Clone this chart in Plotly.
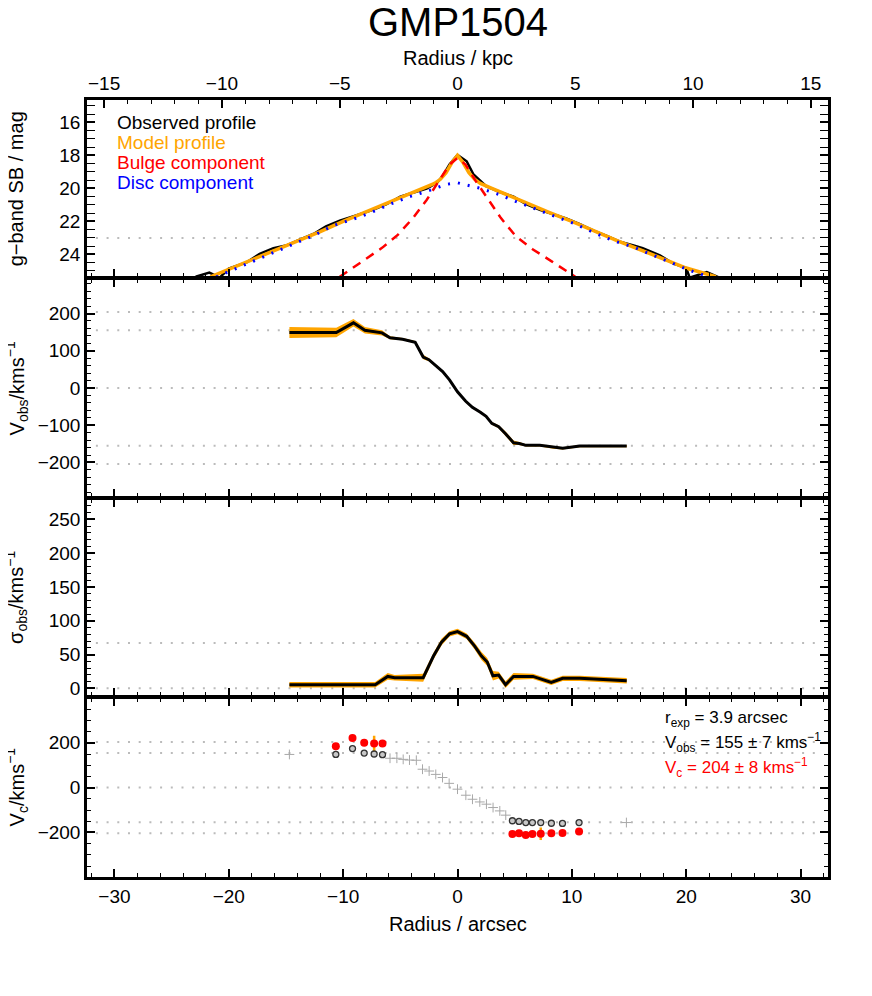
import plotly.graph_objects as go

FONT = "Liberation Sans, Arial, sans-serif"
ORANGE = "#FFA500"
X_MAX = 32.4
KPC_PER_ARCSEC = 0.4854

# panel 1: g-band surface brightness
OBS_R = [-22.9, -21.7, -20.8, -20.0, -18.4, -17.3, -16.1, -15.0, -13.8, -12.6, -11.5, -10.3, -8.8, -7.4,
         -6.2, -5.0, -3.9, -2.7, -1.8, -1.3, -0.7, 0.0, 0.8, 1.4, 2.5, 3.7, 4.9, 6.0, 7.2, 8.4, 9.5,
         10.7, 11.9, 13.0, 14.2, 15.4, 16.2, 17.7, 18.9, 20.0, 20.3, 21.8, 22.9]
OBS_MAG = [25.35, 25.10, 25.40, 24.86, 24.46, 23.96, 23.62, 23.46, 23.10, 22.76, 22.30, 21.96, 21.62, 21.30,
           20.96, 20.50, 20.26, 20.02, 19.66, 19.26, 18.56, 17.97, 18.36, 19.16, 19.86, 20.22, 20.50, 20.96,
           21.30, 21.56, 21.82, 22.16, 22.56, 22.86, 23.22, 23.46, 23.62, 24.06, 24.56, 24.82, 25.40, 25.06, 25.40]

MOD_R = [-21.6, -20, -18, -16, -14, -12, -10, -8, -6, -4, -3, -2, -1.5, -1, -0.5, 0,
         0.5, 1, 1.5, 2, 3, 4, 6, 8, 10, 12, 14, 16, 18, 20, 22.6]
MOD_MAG = [25.35, 24.9, 24.35, 23.8, 23.22, 22.62, 22.0, 21.42, 20.88, 20.3, 20.0, 19.7, 19.45, 19.05, 18.45, 18.0,
           18.45, 19.05, 19.45, 19.7, 20.0, 20.3, 20.88, 21.45, 22.0, 22.6, 23.18, 23.72, 24.28, 24.82, 25.35]

BULGE_R = [-10.3, -9.7, -8.1, -6.6, -5.2, -3.9, -2.7, -1.6, -0.7, 0, 0.7, 1.6, 2.7, 3.8, 5.1, 6.6, 8.2, 10.0, 10.3]
BULGE_MAG = [25.35, 25.06, 24.3, 23.6, 22.8, 21.8, 20.7, 19.56, 18.56, 18.16, 18.56, 19.56, 20.7, 21.8, 22.9,
             23.7, 24.4, 25.2, 25.35]

DISC_R = [-21.1, -18.4, -15.5, -12.6, -10.9, -9.1, -7.7, -5.9, -4.2, -2.6, -1.0, 0, 1.8, 3.6, 5.2, 6.9, 8.7,
          10.3, 12.0, 13.6, 15.4, 17.0, 18.7, 20.3, 22.2]
DISC_MAG = [25.36, 24.56, 23.7, 22.86, 22.26, 21.86, 21.5, 20.96, 20.5, 20.16, 19.76, 19.66, 19.96, 20.36, 20.82,
            21.26, 21.7, 22.16, 22.7, 23.16, 23.56, 24.02, 24.5, 24.96, 25.4]

# panel 2: observed velocity
VOBS_R = [-14.7, -10.6, -9.1, -8.1, -6.6, -5.9, -4.8, -3.7, -3.0, -2.5, -1.9, -1.3, -0.7, 0.0, 0.7, 1.3,
          2.0, 2.5, 3.0, 3.6, 4.2, 4.9, 5.4, 6.0, 7.2, 8.4, 9.2, 10.7, 14.8]
VOBS_V = [149, 149, 175, 155, 148, 135, 131, 123, 83, 76, 60, 44, 22, -10, -35, -52,
          -65, -76, -95, -104, -123, -147, -149, -154, -154, -160, -162, -156, -156]
VOBS_ERR = [15, 13, 10, 9, 7, 4, 3, 3, 6, 4, 3, 3, 3, 3, 3, 3, 3, 3, 4, 4, 6, 6, 4, 3, 3, 3, 3, 3, 3]

# panel 3: observed dispersion
SIG_R = [-14.7, -7.2, -6.1, -5.5, -3.0, -2.1, -1.4, -0.7, 0.0, 0.8, 1.5, 2.1, 2.6, 3.1, 3.6, 4.2, 4.9, 6.6,
         8.2, 9.2, 10.7, 14.8]
SIG_V = [5.3, 5.3, 17.6, 15.6, 15.6, 47.8, 68.3, 80.6, 84, 77, 62.5, 47.8, 39, 18.5, 19.5, 5.3, 17.6, 17.6,
         8.8, 14.7, 14.7, 11.2]
SIG_ERR = [4, 4, 5, 4, 6, 5, 5, 4, 4, 4, 5, 6, 6, 7, 5, 5, 5, 4, 4, 4, 4, 4]

# panel 4: circular velocity
CROSS_R = [-14.7, -5.9, -5.3, -4.75, -4.2, -3.6, -3.06, -2.48, -1.9, -1.31, -0.73, 0.0, 0.73, 1.31, 1.95,
           2.53, 3.11, 3.7, 4.22, 14.77]
CROSS_V = [148, 131, 131, 126, 123, 122, 82, 74, 59, 45, 19, -7, -34, -52, -64, -74, -89, -104, -123, -156]
FIT_R = [-10.64, -9.18, -8.16, -7.29, -6.56, 4.8, 5.38, 5.97, 6.55, 7.28, 8.21, 9.18, 10.63]
FIT_VOBS = [148, 174, 154, 150, 147, -148, -151, -156, -156, -156, -159, -160, -156]
FIT_VC = [185, 221, 200, 197, 197, -207, -204, -212, -207, -206, -204, -203, -196]
ERR_R = [-7.29, 7.28]
ERR_VC = [197, -206]
ERR_SIZE = [35, 28]

V_OBS = 155
V_C = 204
SIG_LINE = 67
SB_LINE = 23

fig = go.Figure()


def line(x, y, color, width, dash="solid", xa="x", ya="y"):
    fig.add_trace(go.Scatter(x=x, y=y, mode="lines", xaxis=xa, yaxis=ya, showlegend=False, hoverinfo="skip",
                             line=dict(color=color, width=width, dash=dash)))


def band(x, y, err, xa, ya):
    up = [v + e for v, e in zip(y, err)]
    lo = [v - e for v, e in zip(y, err)]
    fig.add_trace(go.Scatter(x=x + x[::-1], y=up + lo[::-1], fill="toself", fillcolor=ORANGE, mode="lines",
                             line=dict(width=0, color=ORANGE), xaxis=xa, yaxis=ya, showlegend=False,
                             hoverinfo="skip"))


# panel 1
line(OBS_R, OBS_MAG, "black", 2.5)
line(MOD_R, MOD_MAG, ORANGE, 3.5)
line(BULGE_R, BULGE_MAG, "#FF0000", 2.5, "9px,7px")
line(DISC_R, DISC_MAG, "#0000FF", 3, "2px,8px")
# dummy trace so the kpc axis is drawn
fig.add_trace(go.Scatter(x=[-10, 10], y=[40, 40], xaxis="x5", yaxis="y", mode="lines",
                         showlegend=False, hoverinfo="skip"))

# panel 2
band(VOBS_R, VOBS_V, VOBS_ERR, "x2", "y2")
line(VOBS_R, VOBS_V, "black", 3, xa="x2", ya="y2")

# panel 3
band(SIG_R, SIG_V, SIG_ERR, "x3", "y3")
line(SIG_R, SIG_V, "black", 3, xa="x3", ya="y3")

# panel 4
fig.add_trace(go.Scatter(x=CROSS_R, y=CROSS_V, mode="markers", xaxis="x4", yaxis="y4", showlegend=False,
                         marker=dict(symbol="cross-thin", size=7, line=dict(width=1, color="#a8a8a8"))))
fig.add_trace(go.Scatter(x=ERR_R, y=ERR_VC, mode="markers", xaxis="x4", yaxis="y4", showlegend=False,
                         marker=dict(size=1, opacity=0),
                         error_y=dict(type="data", array=ERR_SIZE, color=ORANGE, thickness=2.5, width=0)))
fig.add_trace(go.Scatter(x=FIT_R, y=FIT_VOBS, mode="markers", xaxis="x4", yaxis="y4", showlegend=False,
                         marker=dict(size=6, color="#c8c8c8", line=dict(width=1.3, color="#333333"))))
fig.add_trace(go.Scatter(x=FIT_R, y=FIT_VC, mode="markers", xaxis="x4", yaxis="y4", showlegend=False,
                         marker=dict(size=8, color="#FF0000")))

# dotted reference lines
shapes = []
ref = [("y", SB_LINE), ("y2", V_C), ("y2", V_OBS), ("y2", 0), ("y2", -V_OBS), ("y2", -V_C),
       ("y3", SIG_LINE), ("y3", 0), ("y4", V_C), ("y4", V_OBS), ("y4", 0), ("y4", -V_OBS), ("y4", -V_C)]
for ya, val in ref:
    xa = "x" if ya == "y" else "x" + ya[1:]
    shapes.append(dict(type="line", xref=xa + " domain", x0=0.012, x1=0.985, yref=ya, y0=val, y1=val,
                       layer="below", line=dict(color="#bbbbbb", width=2, dash="2px,8.7px")))

tickfont = dict(family=FONT, size=19, color="black")


def xaxis(anchor, labels=False, mirror="allticks"):
    return dict(range=[-X_MAX, X_MAX], anchor=anchor, showline=True, linewidth=2.5, linecolor="black",
                mirror=mirror, ticks="inside", ticklen=8, tickwidth=1.5, tickcolor="black", dtick=10, tick0=0,
                minor=dict(ticks="inside", dtick=2, ticklen=4, tickwidth=1.2, tickcolor="black"),
                showticklabels=labels, showgrid=False, zeroline=False, tickfont=tickfont, ticklabelstandoff=0)


def yaxis(domain, rng, dtick, mdtick, anchor):
    return dict(domain=domain, range=rng, anchor=anchor, showline=True, linewidth=2.5, linecolor="black",
                mirror="allticks", ticks="inside", ticklen=8, tickwidth=1.5, tickcolor="black", dtick=dtick,
                tick0=0, minor=dict(ticks="inside", dtick=mdtick, ticklen=4, tickwidth=1.2, tickcolor="black"),
                showgrid=False, zeroline=False, tickfont=tickfont, ticklabelstandoff=0)


kmax = X_MAX * KPC_PER_ARCSEC
layout = dict(
    width=872, height=996, plot_bgcolor="white", paper_bgcolor="white",
    # page body adds 8px offset, margins compensate
    margin=dict(l=79, r=52, t=92, b=127, autoexpand=False),
    font=dict(family=FONT, color="black"),
    shapes=shapes,
    xaxis=xaxis("y", mirror=False),
    xaxis2=xaxis("y2"),
    xaxis3=xaxis("y3"),
    xaxis4=xaxis("y4", labels=True),
    xaxis5=dict(range=[-kmax, kmax], overlaying="x", side="top", anchor="y", showline=True, linewidth=2.5,
                linecolor="black", ticks="inside", ticklen=8, tickwidth=1.5, tickcolor="black", dtick=5, tick0=0,
                minor=dict(ticks="inside", dtick=1, ticklen=4, tickwidth=1.2, tickcolor="black"),
                showgrid=False, zeroline=False, tickfont=tickfont, ticklabelstandoff=0),
    yaxis=yaxis([0.7725, 1.0], [25.35, 14.65], 2, 0.5, "x"),
    yaxis2=yaxis([0.4894, 0.7693], [-292, 292], 100, 20, "x2"),
    yaxis3=yaxis([0.2333, 0.4862], [-11, 280], 50, 10, "x3"),
    yaxis4=yaxis([0.0, 0.2301], [-399, 399], 200, 50, "x4"),
)
fig.update_layout(**layout)

ann = []


def text(x, y, s, size=19, color="black", angle=0, xanchor="center"):
    ann.append(dict(x=x, y=y, xref="paper", yref="paper", text=s, showarrow=False, textangle=angle,
                    xanchor=xanchor, yanchor="middle", font=dict(family=FONT, size=size, color=color)))


text(0.5, 1.1004, "GMP1504", size=40)
text(0.5, 1.054, "Radius / kpc", size=20)
text(0.5, -0.0605, "Radius / arcsec", size=20)
text(-0.0953, 0.8855, "g−band SB / mag", size=20, angle=-90)
text(-0.0953, 0.6293, "V<sub>obs</sub>/kms<sup>−1</sup>", size=20, angle=-90)
text(-0.0953, 0.3597, "σ<sub>obs</sub>/kms<sup>−1</sup>", size=20, angle=-90)
text(-0.0953, 0.1158, "V<sub>c</sub>/kms<sup>−1</sup>", size=20, angle=-90)

text(0.038, 0.9704, "Observed profile", color="black", xanchor="left")
text(0.038, 0.9447, "Model profile", color=ORANGE, xanchor="left")
text(0.038, 0.9190, "Bulge component", color="#FF0000", xanchor="left")
text(0.038, 0.8932, "Disc component", color="#0000FF", xanchor="left")

text(0.777, 0.2033, "r<sub>exp</sub> = 3.9 arcsec", size=17, xanchor="left")
text(0.777, 0.1725, "V<sub>obs</sub> = 155 ± 7 kms<sup>−1</sup>", size=17, xanchor="left")
text(0.777, 0.1403, "V<sub>c</sub> = 204 ± 8 kms<sup>−1</sup>", size=17, color="#FF0000", xanchor="left")

fig.update_layout(annotations=ann)
fig.write_html("out.html")
